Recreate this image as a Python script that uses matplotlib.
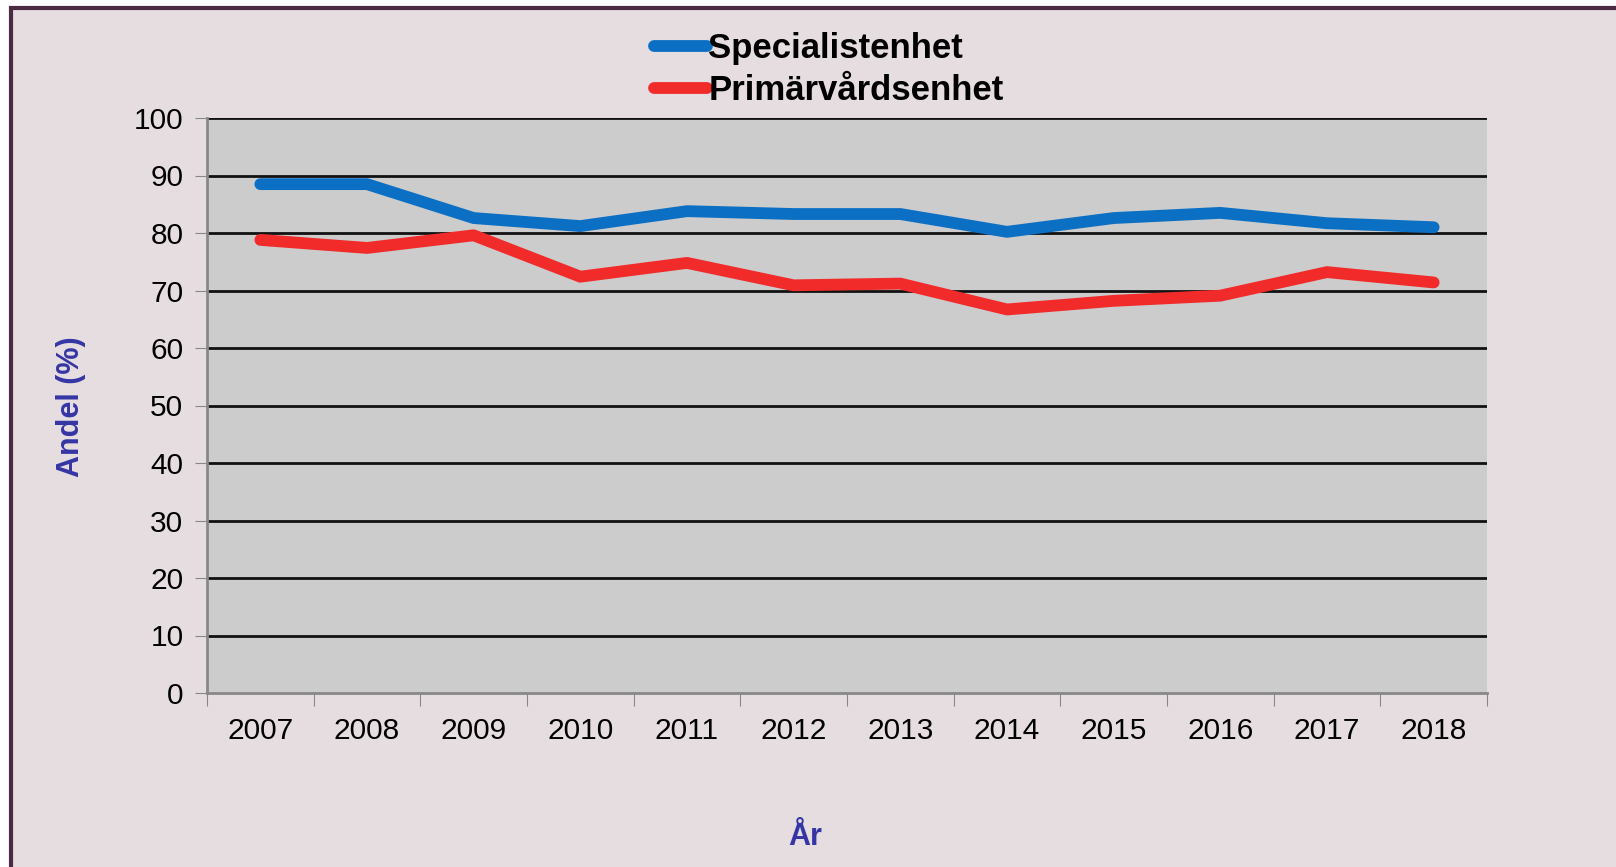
import numpy as np
import matplotlib.pyplot as plt
from matplotlib.patches import Rectangle

# data
years = ['2007', '2008', '2009', '2010', '2011', '2012',
         '2013', '2014', '2015', '2016', '2017', '2018']
specialist = [88.5, 88.5, 82.6, 81.2, 83.8, 83.3, 83.3, 80.2, 82.6, 83.5, 81.7, 81.0]
primarvard = [78.8, 77.4, 79.6, 72.4, 74.8, 70.9, 71.2, 66.7, 68.2, 69.1, 73.2, 71.4]
yticks = list(range(0, 101, 10))

plt.rcParams['font.family'] = ['Liberation Sans', 'DejaVu Sans']

fig = plt.figure(figsize=(16.16, 8.67), dpi=100)
fig.patch.set_facecolor('white')

# bakgrund + ram
fig.patches.append(Rectangle((10.5 / 1616, -0.02), 1.0, 1.02 - 7.5 / 867,
                             transform=fig.transFigure, facecolor='#E6DDE1',
                             edgecolor='#4B2B42', linewidth=3, zorder=-5))

ax = fig.add_axes([207 / 1616, 1 - 693 / 867, 1280 / 1616, 575 / 867])
ax.set_facecolor('#CCCCCC')

x = np.arange(len(years))
l1, = ax.plot(x, specialist, color='#0B6FC4', lw=8.5, solid_capstyle='round',
              solid_joinstyle='round', label='Specialistenhet', zorder=3)
l2, = ax.plot(x, primarvard, color='#F12A2A', lw=8.5, solid_capstyle='round',
              solid_joinstyle='round', label='Primärvårdsenhet', zorder=3)

ax.set_xlim(-0.5, len(years) - 0.5)
ax.set_ylim(0, 100)
ax.set_yticks(yticks)
ax.set_yticklabels([str(v) for v in yticks], fontsize=21.5)
ax.set_xticks(np.arange(len(years) + 1) - 0.5)
ax.set_xticklabels([])
ax.set_xticks(x, minor=True)
ax.set_xticklabels(years, minor=True, fontsize=21.5)
ax.tick_params(axis='x', which='minor', length=0, pad=17)
ax.tick_params(axis='x', which='major', length=9, color='#888888', direction='out')
ax.tick_params(axis='y', length=9, color='#888888', pad=8)

for v in yticks[1:]:
    ax.axhline(v, color='#111111', lw=2, zorder=2)

for s in ['top', 'right']:
    ax.spines[s].set_visible(False)
ax.spines['left'].set_color('#888888')
ax.spines['left'].set_linewidth(2)
ax.spines['bottom'].set_color('#888888')
ax.spines['bottom'].set_linewidth(2)

fig.text(71 / 1616, 1 - 407 / 867, 'Andel (%)', rotation=90, fontsize=22,
         fontweight='bold', color='#3535A5', ha='center', va='center')
fig.text(805 / 1616, 1 - 837 / 867, 'År', fontsize=22,
         fontweight='bold', color='#3535A5', ha='center', va='center')

fig.legend(handles=[l1, l2], loc='upper center', bbox_to_anchor=(829 / 1616, 1 - 1 / 867),
           frameon=False, prop={'weight': 'bold', 'size': 25},
           handlelength=1.5, handletextpad=0.05, labelspacing=0.25)

fig.savefig('out.png', dpi=100, facecolor=fig.get_facecolor())
